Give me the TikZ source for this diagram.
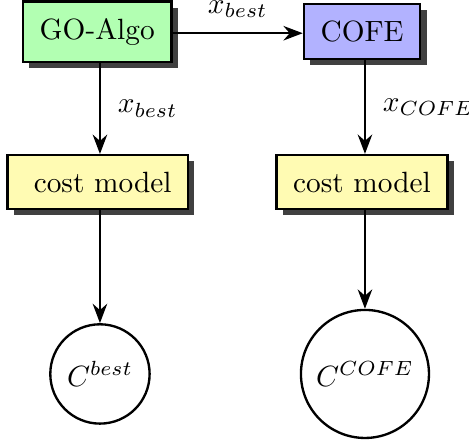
\documentclass[tikz,border=0pt]{standalone}
\usepackage{amsmath,amssymb}
\usepackage{xcolor}
\usepackage{tikz}
\usetikzlibrary{shapes,arrows,positioning,calc,shadows,arrows.meta}

\begin{document}
\begin{tikzpicture}[
    block/.style={draw, thick, rectangle, inner sep=2mm, drop shadow={fill=black!75, opacity=1}},
    result/.style={draw, thick, circle, inner sep=0pt},
    flow/.style={thick, -{Stealth}},
    tag/.style={inner sep=2mm}
]
    \useasboundingbox (0,0) rectangle (5.626,-5.326);

    \node[block, fill=green!30] (algo) at (1.166,-0.381) {GO-Algo};
    \node[block, fill=blue!30] (cofe) at (4.344,-0.377) {COFE};
    \node[block, fill=yellow!30] (costA) at (1.173,-2.185) {~cost model};
    \node[block, fill=yellow!30] (costB) at (4.342,-2.184) {cost model};
    \node[result, minimum size=33.9pt] (cbest) at (1.199,-4.486) {$C^{best}$};
    \node[result, minimum size=43.7pt] (ccofe) at (4.378,-4.486) {$C^{COFE}$};

    \draw[flow] ([yshift=-0.5pt]algo.east) -- node[above=4.2pt, inner sep=0.8pt] {$x_{best}$} ([yshift=-0.5pt]algo.east -| cofe.west);
    \draw[flow] (algo.south -| cbest.north) -- node[tag, right] {$x_{best}$} (costA.north -| cbest.north);
    \draw[flow] (cofe.south -| ccofe.north) -- node[tag, right] {$x_{COFE}$} (costB.north -| ccofe.north);
    \draw[flow] (costA.south -| cbest.north) -- (cbest.north);
    \draw[flow] (costB.south -| ccofe.north) -- (ccofe.north);
\end{tikzpicture}
\end{document}
